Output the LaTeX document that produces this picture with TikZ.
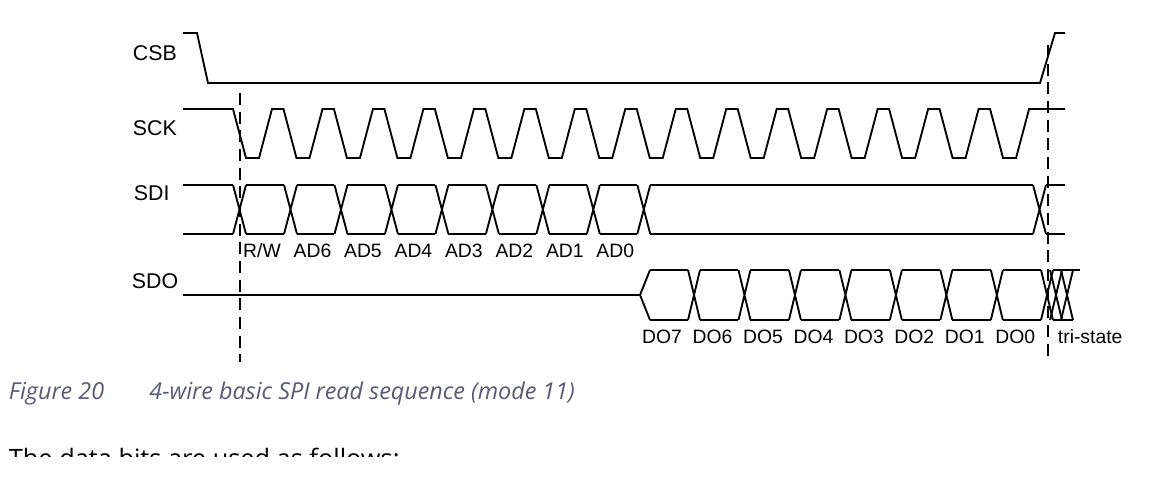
\documentclass[tikz,border=0pt]{standalone}
\usepackage{fontspec}
\setmainfont{Liberation Sans}
\newfontfamily\capfont{Open Sans}
\begin{document}
\begin{tikzpicture}[x=0.75pt,y=-0.75pt,line width=1.4pt,line join=miter,
  sig/.style={font=\fontsize{16}{18}\selectfont,anchor=west,inner sep=0},
  bit/.style={font=\fontsize{14.5}{17}\selectfont,inner sep=0},
  guide/.style={dashed,dash pattern=on 9pt off 5pt,line width=1.2pt}]
\useasboundingbox (0,0) rectangle (1151,482);
\def\p{50.47}
% labels
\node[sig] (csb) at (132,53) {CSB};
\node[sig] (sck) at (132,128) {SCK};
\node[sig] (sdi) at (133,193) {SDI};
\node[sig] (sdo) at (131,281) {SDO};
% CSB
\draw (183,33)--(197,33)--(208,83)--(1040,83)--(1055,33)--(1065,33);
% SCK
\draw (183,109) \foreach \i in {0,...,15}{ --({233+\p*\i},109)--({246+\p*\i},158)--({259+\p*\i},158)--({272+\p*\i},109)} --(1065,109);
% SDI
\draw (183,185)--(233,185) (183,234)--(233,234);
\draw (233,185)--(246,234) (233,234)--(246,185);
\draw (246,185)--(284,185) (246,234)--(284,234);
\foreach \k in {0,...,7}{
  \draw ({284+\p*\k},185)--({297+\p*\k},234) ({284+\p*\k},234)--({297+\p*\k},185);
}
\foreach \k in {0,...,6}{
  \draw ({297+\p*\k},185)--({284+\p*(\k+1)},185) ({297+\p*\k},234)--({284+\p*(\k+1)},234);
}
\draw (650,185)--(1033,185) (650,234)--(1033,234);
\draw (1033,185)--(1046,234) (1033,234)--(1046,185);
\draw (1046,185)--(1065,185) (1046,234)--(1065,234);
\foreach \t [count=\k from 0] in {R/W,AD6,AD5,AD4,AD3,AD2,AD1,AD0}{
  \node[bit] (a\k) at ({262+\p*\k},251) {\t};
}
% SDO
\draw (183,295)--(640,295)--(650,270) (640,295)--(650,320);
\draw (650,270)--(688,270) (650,320)--(688,320);
\foreach \k in {0,...,6}{
  \draw ({688+\p*\k},270)--({700+\p*\k},320) ({688+\p*\k},320)--({700+\p*\k},270);
}
\foreach \k in {0,...,5}{
  \draw ({700+\p*\k},270)--({688+\p*(\k+1)},270) ({700+\p*\k},320)--({688+\p*(\k+1)},320);
}
\draw (1003,270)--(1041,270) (1003,320)--(1041,320);
\draw (1041,270)--(1053,320) (1041,320)--(1053,270);
\draw (1050,270)--(1062,320) (1050,320)--(1062,270);
\draw (1061,270)--(1073,320) (1061,320)--(1073,270);
\draw (1053,270)--(1080,270) (1053,320)--(1073,320);
\foreach \t [count=\k from 0] in {DO7,DO6,DO5,DO4,DO3,DO2,DO1,DO0}{
  \node[bit] (d\k) at ({662+\p*\k},337) {\t};
}
\node[bit,anchor=west] (ts) at (1057,337) {tri-state};
% guides
\draw[guide] (240,93)--(240,362);
\draw[guide] (1048,45)--(1048,362);
% caption
\node[anchor=west,inner sep=0,font=\capfont\itshape\fontsize{17.5}{20}\selectfont,text=black!60!blue!30!gray] (cap) at (8,393) {Figure 20\hspace{34pt}4-wire basic SPI read sequence (mode 11)};
\node[anchor=west,inner sep=0,font=\capfont\fontsize{19}{22}\selectfont] (body) at (8,458) {The data bits are used as follows:};
\fill[white] (0,457) rectangle (1151,482);
\end{tikzpicture}
\end{document}
